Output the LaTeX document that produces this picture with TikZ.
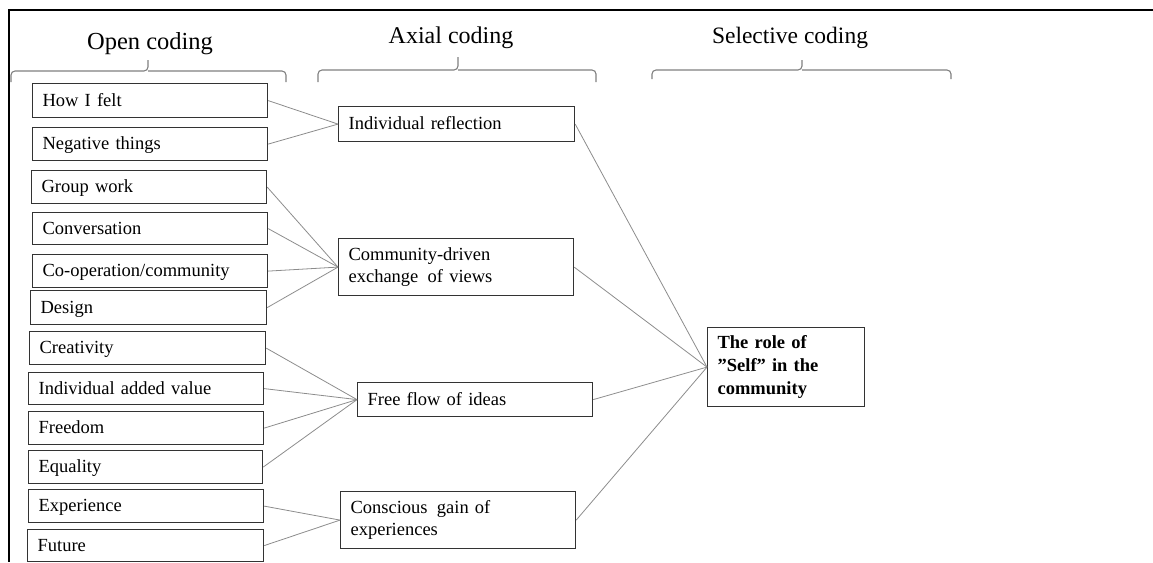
\documentclass[tikz,border=0pt]{standalone}
\usepackage{fontspec}
\setmainfont{Liberation Serif}
\begin{document}
\begin{tikzpicture}[x=1pt,y=-1pt,
  boxbase/.style={draw=black!80, line width=1.2pt, anchor=north west,
    inner xsep=10pt, inner ysep=0pt, align=left,
    font=\fontsize{18.5}{22.5}\selectfont},
  onebox/.style={boxbase, text height=14pt, text depth=3pt},
  link/.style={draw=black!45, line width=0.8pt},
  brace/.style={draw=black!50, line width=1.1pt, rounded corners=4pt},
  title/.style={anchor=base, inner sep=0pt}
]
\useasboundingbox (0,0) rectangle (1153,562);

% frame
\draw[line width=1.8pt] (1153,10) -- (9,10) -- (9,562);

% column headings
\node[title, font=\fontsize{24.5}{28}\selectfont] (hopen) at (150,49) {Open coding};
\node[title, font=\fontsize{24}{28}\selectfont] (haxial) at (451,43) {Axial coding};
\node[title, font=\fontsize{23.5}{28}\selectfont] (hsel) at (790,43) {Selective coding};

% braces under the headings
\draw[brace] (11,82) |- (148,71) -- (148,60);
\draw[brace] (286,82) |- (148,71);
\draw[brace] (318,82) |- (458,70) -- (458,57);
\draw[brace] (596,82) |- (458,70);
\draw[brace] (652,79) |- (802,70) -- (802,60);
\draw[brace] (951,79) |- (802,70);

% open codes
\node[onebox, minimum width=235pt, text width=215pt, minimum height=34pt] (felt) at (32,83) {How I felt};
\node[onebox, minimum width=235pt, text width=215pt, minimum height=33pt] (neg) at (32,127) {Negative things};
\node[onebox, minimum width=235pt, text width=215pt, minimum height=33pt] (group) at (31,170) {Group work};
\node[onebox, minimum width=235pt, text width=215pt, minimum height=32pt] (conv) at (32,212) {Conversation};
\node[onebox, minimum width=235pt, text width=215pt, minimum height=33pt] (coop) at (32,254) {Co-operation/community};
\node[onebox, minimum width=236pt, text width=216pt, minimum height=34pt] (design) at (30,290) {Design};
\node[onebox, minimum width=236pt, text width=216pt, minimum height=33pt] (creat) at (29,331) {Creativity};
\node[onebox, minimum width=235pt, text width=215pt, minimum height=32pt] (added) at (28,372) {Individual added value};
\node[onebox, minimum width=235pt, text width=215pt, minimum height=33pt] (freedom) at (28,411) {Freedom};
\node[onebox, minimum width=234pt, text width=214pt, minimum height=33pt] (equal) at (28,450) {Equality};
\node[onebox, minimum width=235pt, text width=215pt, minimum height=33pt] (exper) at (28,489) {Experience};
\node[onebox, minimum width=236pt, text width=216pt, minimum height=32pt] (future) at (27,529) {Future};

% axial codes
\node[onebox, minimum width=236pt, text width=216pt, minimum height=35pt] (refl) at (338,106) {Individual reflection};
\node[boxbase, minimum width=235pt, text width=215pt, minimum height=57pt] (exch) at (338,238) {Community-driven\\exchange\, of views};
\node[onebox, minimum width=235pt, text width=215pt, minimum height=34pt] (flow) at (357,382) {Free flow of ideas};
\node[boxbase, minimum width=235pt, text width=215pt, minimum height=57pt] (gain) at (340,491) {Conscious\, gain of\\experiences};

% selective code
\node[boxbase, font=\fontsize{18.5}{23}\selectfont\bfseries, minimum width=157pt, text width=137pt, minimum height=79pt] (self) at (707,327) {The role of\\”Self” in the\\community};

% open -> axial
\draw[link] (felt.east) -- (refl.west);
\draw[link] (neg.east) -- (refl.west);
\draw[link] (group.east) -- (exch.west);
\draw[link] (conv.east) -- (exch.west);
\draw[link] (coop.east) -- (exch.west);
\draw[link] (design.east) -- (exch.west);
\draw[link] (creat.east) -- (flow.west);
\draw[link] (added.east) -- (flow.west);
\draw[link] (freedom.east) -- (flow.west);
\draw[link] (equal.east) -- (flow.west);
\draw[link] (exper.east) -- (gain.west);
\draw[link] (future.east) -- (gain.west);

% axial -> selective
\draw[link] (refl.east) -- (self.west);
\draw[link] (exch.east) -- (self.west);
\draw[link] (flow.east) -- (self.west);
\draw[link] (gain.east) -- (self.west);
\end{tikzpicture}
\end{document}
